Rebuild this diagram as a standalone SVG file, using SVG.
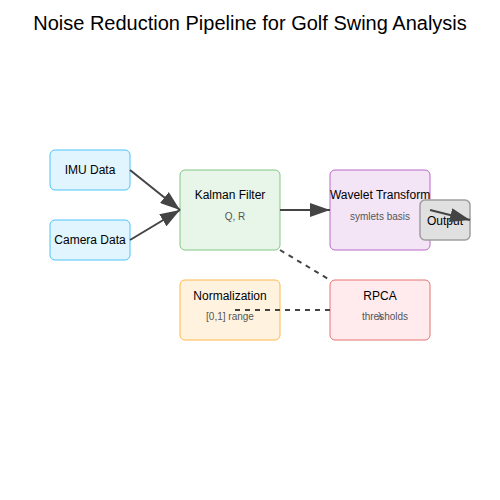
<svg xmlns="http://www.w3.org/2000/svg" width="500" height="500" viewBox="0 0 500 500">
<style>
text{font-family:"Liberation Sans",Arial,sans-serif;text-anchor:middle;}
.t{font-size:12px;fill:#000;}
.s{font-size:10px;fill:#555;}
.title{font-size:20px;fill:#000;}
.c{stroke:#444;stroke-width:2;fill:none;}
.d{stroke:#444;stroke-width:2;fill:none;stroke-dasharray:5,5;}
</style>
<defs>
<marker id="ah" markerWidth="10" markerHeight="7" refX="10" refY="3.5" orient="auto" markerUnits="strokeWidth">
<polygon points="0 0,10 3.5,0 7" fill="#444"/>
</marker>
</defs>
<rect width="500" height="500" fill="#fff"/>
<text class="title" x="250" y="30">Noise Reduction Pipeline for Golf Swing Analysis</text>
<g id="imu">
<rect x="50" y="150" width="80" height="40" rx="5" fill="#e1f5fe" stroke="#4fc3f7"/>
<text class="t" x="90" y="174">IMU Data</text>
</g>
<g id="camera">
<rect x="50" y="220" width="80" height="40" rx="5" fill="#e1f5fe" stroke="#4fc3f7"/>
<text class="t" x="90" y="244">Camera Data</text>
</g>
<g id="kalman">
<rect x="180" y="170" width="100" height="80" rx="5" fill="#e8f5e9" stroke="#81c784"/>
<text class="t" x="230" y="199">Kalman Filter</text>
<text class="s" x="235" y="220">Q, R</text>
</g>
<g id="wavelet">
<rect x="330" y="170" width="100" height="80" rx="5" fill="#f3e5f5" stroke="#ba68c8"/>
<text class="t" x="380" y="199">Wavelet Transform</text>
<text class="s" x="380" y="220">symlets basis</text>
</g>
<g id="normalization">
<rect x="180" y="280" width="100" height="60" rx="5" fill="#fff3e0" stroke="#ffb74d"/>
<text class="t" x="230" y="300">Normalization</text>
<text class="s" x="230" y="320">[0,1] range</text>
</g>
<g id="rpca">
<rect x="330" y="280" width="100" height="60" rx="5" fill="#ffebee" stroke="#e57373"/>
<text class="t" x="380" y="300">RPCA</text>
<text class="s" x="385" y="320">thresholds</text>
<text class="s" x="380" y="320">λ</text>
</g>
<g id="output">
<rect x="420" y="200" width="50" height="40" rx="5" fill="#e0e0e0" stroke="#9e9e9e" stroke-width="1.5"/>
<text class="t" x="445" y="225">Output</text>
</g>
<g id="connectors">
<line class="c" x1="130" y1="170" x2="180" y2="210" marker-end="url(#ah)"/>
<line class="c" x1="130" y1="240" x2="180" y2="210" marker-end="url(#ah)"/>
<line class="c" x1="280" y1="210" x2="330" y2="210" marker-end="url(#ah)"/>
<line class="c" x1="430" y1="210" x2="470" y2="220" marker-end="url(#ah)"/>
<line class="d" x1="280" y1="250" x2="330" y2="280"/>
<line class="d" x1="330" y1="310" x2="230" y2="310"/>
</g>
</svg>
